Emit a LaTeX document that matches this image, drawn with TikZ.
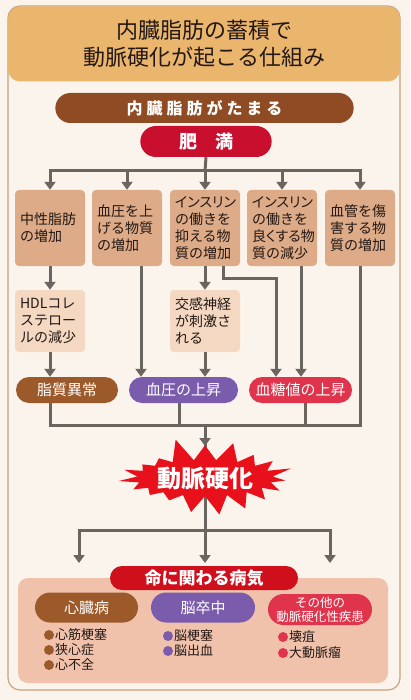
\documentclass[tikz,border=0pt]{standalone}
\usepackage{fontspec}
\setmainfont{Noto Sans CJK JP}
\usetikzlibrary{arrows.meta,shapes.misc,shapes.symbols}

\definecolor{paper}{HTML}{FBF4EC}
\definecolor{framec}{HTML}{C9A27E}
\definecolor{titleorange}{HTML}{EAB56C}
\definecolor{ink}{HTML}{231815}
\definecolor{fatbrown}{HTML}{8E4B24}
\definecolor{obesered}{HTML}{C8102E}
\definecolor{tanbox}{HTML}{DDAB87}
\definecolor{lighttan}{HTML}{F4D8C1}
\definecolor{linegray}{HTML}{6B6560}
\definecolor{lipidbrown}{HTML}{9C5A2A}
\definecolor{purplec}{HTML}{7B5CAC}
\definecolor{pinkred}{HTML}{E0344C}
\definecolor{burstred}{HTML}{E8101A}
\definecolor{panelpink}{HTML}{F0C2AC}
\definecolor{dangerred}{HTML}{D00F1C}

\newcommand\fs[2]{\fontsize{#1}{#2}\selectfont}
\newcommand\prop{\addfontfeature{RawFeature=+palt}}

\begin{document}
\begin{tikzpicture}[x=1pt,y=-1pt,
  conn/.style={draw=linegray,line width=3pt},
  arr/.style={conn,-{Triangle[width=11pt,length=8pt]}},
  cause/.style={fill=tanbox,rounded corners=4pt,minimum width=70pt,minimum height=76pt,
    text width=60pt,align=left,inner sep=0pt,text=ink,font=\fs{14}{17}},
  subcause/.style={cause,fill=lighttan,minimum height=62pt},
  pill/.style={rounded rectangle,minimum height=26pt,inner sep=0pt,text=white,font=\fs{15}{17}},
  item/.style={anchor=west,inner sep=0pt,text=ink,font=\fs{13}{15}}]

  % fond et cadre
  \useasboundingbox (0,0) rectangle (410,700);
  \fill[paper] (0,0) rectangle (410,700);
  \draw[framec,line width=1.2pt,rounded corners=12pt] (8,6) rectangle (400,690);

  % titre
  \node[fill=titleorange,rounded corners=12pt,minimum width=392pt,minimum height=75pt,
    align=center,text=ink,font=\fs{22}{27}] (title) at (204,44) {内臓脂肪の蓄積で\\動脈硬化が起こる仕組み};

  \node[rounded rectangle,fill=fatbrown,minimum width=305pt,minimum height=30pt,text=white,
    font=\bfseries\fs{16}{18}\addfontfeature{LetterSpace=25}] (fat) at (204.5,108) {内臓脂肪がたまる};
  \node[rounded rectangle,fill=obesered,minimum width=138pt,minimum height=31pt,text=white,
    font=\bfseries\fs{18}{20}] (obese) at (206,141.5) {肥　満};

  % causes
  \node[cause] (b1) at (50,228) {中性脂肪\\の増加};
  \node[cause] (b2) at (127,228) {血圧を上\\げる物質\\の増加};
  \node[cause] (b3) at (205,228) {{\prop インスリン}\\の働きを\\抑える物\\質の増加};
  \node[cause] (b4) at (282,228) {{\prop インスリン}\\の働きを\\{\prop 良くする物}\\質の減少};
  \node[cause] (b5) at (360,228) {血管を傷\\害する物\\質の増加};

  \node[subcause] (hdl) at (50,321) {HDLコレ\\ステロー\\ルの減少};
  \node[subcause] (nerve) at (205,321) {交感神経\\が刺激さ\\れる};

  % trois etats
  \node[pill,fill=lipidbrown,minimum width=102pt] (lipid) at (67,390) {脂質異常};
  \node[pill,fill=purplec,minimum width=109pt] (bp) at (183.5,390) {血圧の上昇};
  \node[pill,fill=pinkred,minimum width=103pt] (sugar) at (300.5,390) {血糖値の上昇};

  % fleches du haut
  \coordinate (split) at (205,171);
  \draw[conn] (obese.south) -- (split);
  \foreach \b in {b1,b2,b3,b4,b5} {
    \draw[arr] (split) -| (\b.north);
  }
  \draw[arr] (b1) -- (hdl);
  \draw[arr] (b3) -- (nerve);
  \draw[arr] (hdl.south) -- (hdl.south |- lipid.north);
  \draw[arr] ([xshift=14pt]b2.south) -- ([xshift=14pt]b2.south |- bp.north);
  \draw[arr] (nerve.south) -- (nerve.south |- bp.north);
  \draw[arr] ([xshift=18pt]b3.south) -- ++(0,12) -| ([xshift=-24.5pt]sugar.north);
  \draw[arr] ([xshift=19pt]b4.south) -- ([xshift=19pt]b4.south |- sugar.north);

  % jonction vers le centre
  \coordinate (join) at (205,425);
  \draw[conn] (b5.south) |- (join);
  \draw[conn] ([xshift=-17pt]lipid.south) |- (join);
  \draw[conn] ([xshift=-4.5pt]bp.south) -- ([xshift=-4.5pt]bp.south |- join);
  \draw[conn] ([xshift=4.5pt]sugar.south) -- ([xshift=4.5pt]sugar.south |- join);

  % etoile
  \coordinate (fork) at (205,530);
  \draw[conn] (join) -- (fork);
  \draw[arr] (join) -- (205,446);
  \node[starburst,starburst points=19,starburst point height=24pt,random starburst=5,
    fill=burstred,minimum width=172pt,minimum height=84pt,inner sep=0pt,text=white,
    font=\bfseries\fs{24}{26}] (burst) at (205,478) {動脈硬化};

  % fleches du bas
  \coordinate (toheart) at (79,563);
  \coordinate (tobrain) at (205,563);
  \coordinate (toother) at (330,563);
  \draw[arr] (fork) -| (toheart);
  \draw[arr] (fork) -| (toother);
  \draw[arr] (fork) -- (tobrain);

  % maladies
  \node[fill=panelpink,rounded corners=10pt,minimum width=370pt,minimum height=105pt] (panel) at (203,630.5) {};
  \node[rounded rectangle,fill=dangerred,minimum width=188pt,minimum height=24pt,inner sep=0pt,
    text=white,font=\bfseries\fs{17}{19}] (danger) at (204,578) {命に関わる病気};

  \node[pill,fill=lipidbrown,minimum width=103pt,minimum height=30pt] (heart) at (86.5,607.5) {心臓病};
  \node[pill,fill=purplec,minimum width=104pt,minimum height=30pt] (brain) at (203,607.5) {脳卒中};
  \node[pill,fill=pinkred,minimum width=104pt,minimum height=31pt,align=center,
    font=\fs{12.5}{14}] (other) at (320,609.5) {その他の\\動脈硬化性疾患};

  \foreach \t [count=\i] in {心筋梗塞,狭心症,心不全} {
    \fill[lipidbrown] (49,{620+15*\i}) circle (5pt);
    \node[item] (heart\i) at (55,{620+15*\i}) {\t};
  }
  \foreach \t [count=\i] in {脳梗塞,脳出血} {
    \fill[purplec] (168,{621+15*\i}) circle (5pt);
    \node[item] (brain\i) at (174,{621+15*\i}) {\t};
  }
  \foreach \t [count=\i] in {壊疽,大動脈瘤} {
    \fill[pinkred] (283,{621+16*\i}) circle (5pt);
    \node[item] (other\i) at (289,{621+16*\i}) {\t};
  }

\end{tikzpicture}
\end{document}
